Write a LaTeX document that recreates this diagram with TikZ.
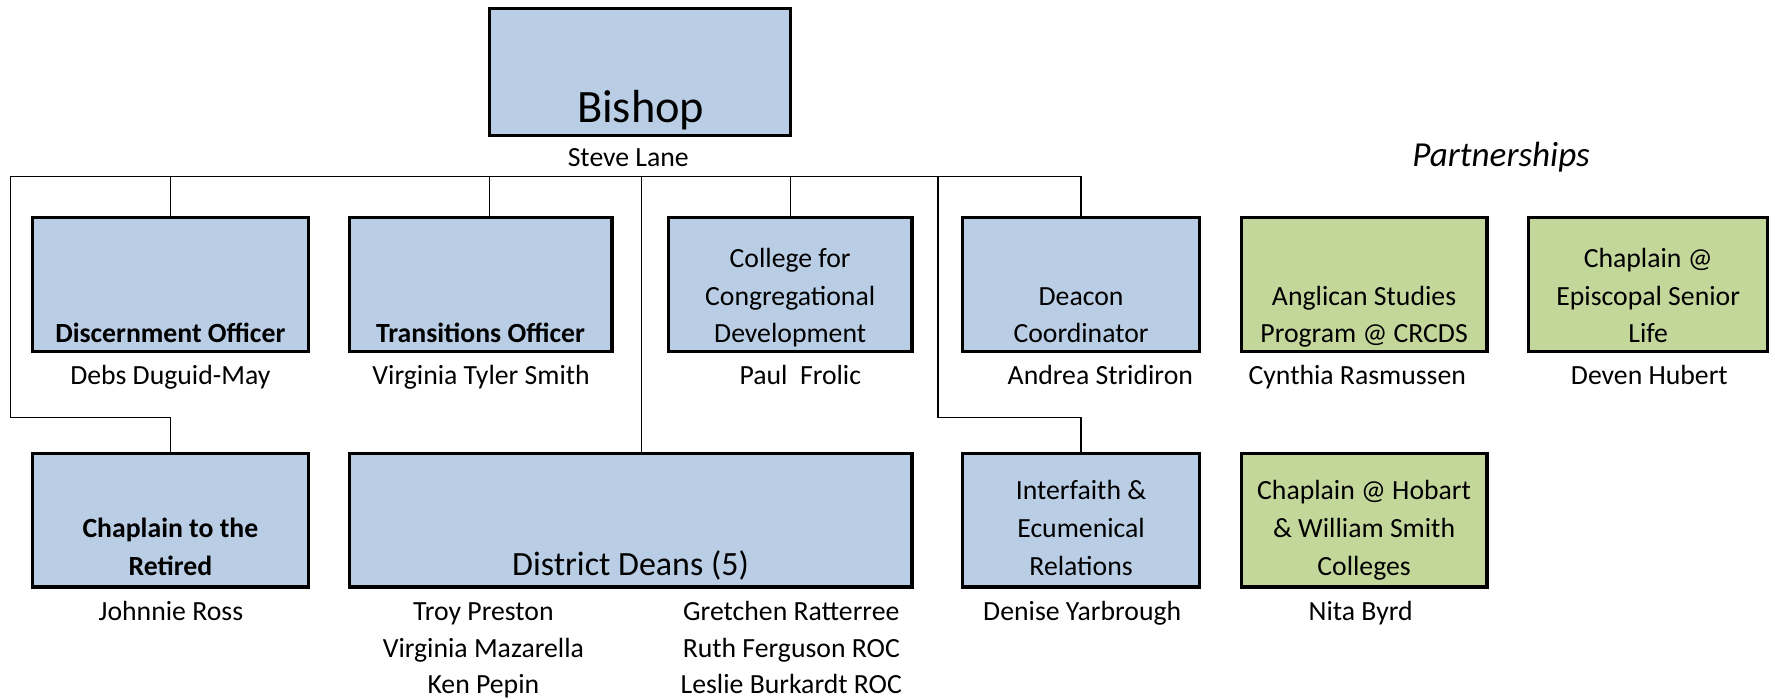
\documentclass[tikz,border=0pt]{standalone}
\usepackage{fontspec}
\setmainfont{Carlito}
\usetikzlibrary{positioning,calc}
\definecolor{roleblue}{RGB}{185,205,229}
\definecolor{partgreen}{RGB}{196,215,155}

\begin{document}
\begin{tikzpicture}[x=1pt,y=-1pt,font=\fontsize{24.5}{33.5}\selectfont,
 box/.style={draw,line width=2.8pt,fill=roleblue,inner sep=0pt,minimum height=118.2pt},
 pbox/.style={box,fill=partgreen},
 txt/.style={anchor=base,align=center,inner sep=0pt},
 conn/.style={line width=1.1pt}]
\useasboundingbox (0,0) rectangle (1568,617);
% boxes
\node[box,minimum width=266.2pt,minimum height=112.2pt] (bishop) at (565.5,63.5) {};
\node[box,minimum width=244.2pt] (disc) at (150.5,251.5) {};
\node[box,minimum width=232.2pt] (trans) at (424.5,251.5) {};
\node[box,minimum width=215.2pt] (coll) at (698.0,251.5) {};
\node[box,minimum width=209.2pt] (deac) at (955.0,251.5) {};
\node[pbox,minimum width=217.2pt] (angl) at (1205.0,251.5) {};
\node[pbox,minimum width=211.2pt] (epis) at (1456.0,251.5) {};
\node[box,minimum width=244.2pt] (ret) at (150.5,459.5) {};
\node[box,minimum width=497.2pt] (deans) at (557.0,459.5) {};
\node[box,minimum width=209.2pt] (inter) at (955.0,459.5) {};
\node[pbox,minimum width=217.2pt] (hob) at (1205.0,459.5) {};
% titles (base = last line)
\node[txt,font=\fontsize{41}{48}\selectfont] (bishop-t) at (566.0,108.0) {Bishop};
\node[txt] (disc-t) at (150.5,303.0) {\textbf{Discernment Officer}};
\node[txt] (trans-t) at (424.5,303.0) {\textbf{Transitions Officer}};
\node[txt] (coll-t) at (698.0,303.0) {College for\\Congregational\\Development};
\node[txt] (deac-t) at (955.0,303.0) {Deacon\\Coordinator};
\node[txt] (angl-t) at (1205.0,303.0) {Anglican Studies\\Program @ CRCDS};
\node[txt] (epis-t) at (1456.0,303.0) {Chaplain @\\Episcopal Senior\\Life};
\node[txt] (ret-t) at (150.5,508.0) {\textbf{Chaplain to the}\\\textbf{Retired}};
\node[txt,font=\fontsize{30}{36}\selectfont] (deans-t) at (557.0,508.0) {District Deans (5)};
\node[txt] (inter-t) at (955.0,508.0) {Interfaith \&\\Ecumenical\\Relations};
\node[txt] (hob-t) at (1205.0,508.0) {Chaplain @ Hobart\\\& William Smith\\Colleges};
\node[txt,font=\itshape\fontsize{31}{36}\selectfont] (partners) at (1326.0,147.5) {Partnerships};
% people
\node[txt] (bishop-n) at (555.0,147.0) {Steve Lane};
\node[txt] (disc-n) at (150.5,340.0) {Debs Duguid-May};
\node[txt] (trans-n) at (425.0,340.0) {Virginia Tyler Smith};
\node[txt] (coll-n) at (707.0,340.0) {Paul\ \ Frolic};
\node[txt] (deac-n) at (972.0,340.0) {Andrea Stridiron};
\node[txt] (angl-n) at (1199.0,340.0) {Cynthia Rasmussen};
\node[txt] (epis-n) at (1457.0,340.0) {Deven Hubert};
\node[txt] (ret-n) at (151.0,548.0) {Johnnie Ross};
\node[txt,font=\fontsize{24.5}{32.5}\selectfont] (deans-l) at (427.0,613.0) {Troy Preston\\Virginia Mazarella\\Ken Pepin};
\node[txt,font=\fontsize{24.5}{32.5}\selectfont] (deans-r) at (699.0,613.0) {Gretchen Ratterree\\Ruth Ferguson ROC\\Leslie Burkardt ROC};
\node[txt] (inter-n) at (956.0,548.0) {Denise Yarbrough};
\node[txt] (hob-n) at (1202.0,548.0) {Nita Byrd};
% connectors
\coordinate (busL) at (9,156);
\coordinate (kneeL) at (9,369);
\coordinate (spine) at (567,156);
\coordinate (kneeR) at (828.5,369);
\draw[conn] (kneeL) -- (busL) -| (deac.north);
\draw[conn] (kneeL) -| (ret.north);
\draw[conn] (disc.north) -- (disc.north |- busL);
\draw[conn] ([xshift=8pt]trans.north) -- ([xshift=8pt]trans.north |- busL);
\draw[conn] (spine) -- (spine |- deans.north);
\draw[conn] (coll.north) -- (coll.north |- busL);
\draw[conn] (kneeR |- busL) -- (kneeR) -| (inter.north);
\end{tikzpicture}
\end{document}
